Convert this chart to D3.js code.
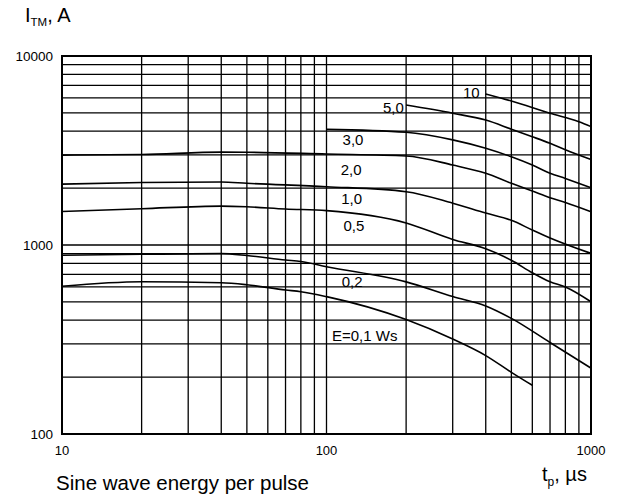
<!DOCTYPE html>
<html>
<head>
<meta charset="utf-8">
<script src="https://cdn.jsdelivr.net/npm/d3@7"></script>
<style>
  body { margin: 0; background: #fff; }
  text { font-family: "Liberation Sans", Arial, sans-serif; fill: #000; }
</style>
</head>
<body>
<div class="chart"></div>
<script>
// pulse duration tp (us) vs peak on-state current ITM (A), one curve per energy
const xMajor = [10, 100, 1000]
const yMajor = [100, 1000, 10000]
const xMinor = [20, 30, 40, 50, 60, 70, 80, 90, 200, 300, 400, 500, 600, 700, 800, 900]
const yMinor = [200, 300, 400, 500, 600, 700, 800, 900, 2000, 3000, 4000, 5000, 6000, 7000, 8000, 9000]

const e10 = [[400, 6300], [500, 5780], [700, 4980], [900, 4490], [1000, 4230]]
const e5 = [[200, 5500], [300, 4980], [400, 4580], [500, 4100], [600, 3740], [700, 3450], [800, 3190], [1000, 2830]]
const e3 = [[100, 4090], [200, 3950], [300, 3600], [400, 3250], [500, 2930], [600, 2650], [700, 2400], [800, 2250], [1000, 2010]]
const e2 = [[10, 2990], [20, 3010], [40, 3100], [50, 3095], [100, 3030], [200, 2960], [300, 2650], [400, 2395], [500, 2120], [600, 1930], [700, 1780], [800, 1680], [1000, 1500]]
const e1 = [[10, 2100], [20, 2140], [40, 2155], [50, 2120], [100, 2035], [200, 1915], [300, 1665], [400, 1475], [500, 1350], [600, 1200], [700, 1090], [1000, 903]]
const e05 = [[10, 1505], [20, 1556], [40, 1606], [50, 1593], [70, 1550], [100, 1520], [200, 1308], [300, 1070], [400, 955], [500, 830], [600, 713], [700, 639], [800, 600], [1000, 501]]
const e02 = [[10, 883], [20, 893], [40, 900], [50, 880], [70, 833], [80, 818], [100, 768], [200, 638], [300, 534], [400, 476], [500, 409], [700, 305], [1000, 223]]
const e01 = [[10, 605], [20, 639], [40, 631], [50, 616], [70, 578], [80, 566], [100, 533], [200, 403], [300, 318], [400, 260], [500, 212], [600, 181]]

const curves = [e10, e5, e3, e2, e1, e05, e02, e01]
const labelText = ["10", "5,0", "3,0", "2,0", "1,0", "0,5", "0,2", "E=0,1 Ws"]
const labelT = [353, 179, 126, 124, 124.5, 127, 125, 139.5]
const labelI = [6400, 5350, 3595, 2515, 1766, 1260, 640, 330]

const width = 622
const height = 495
const plotLeft = 62, plotRight = 591, plotTop = 56, plotBottom = 434

const svg = d3.select(".chart").append("svg")
  .attr("width", width)
  .attr("height", height)

const x = d3.scaleLog().domain([10, 1000]).range([plotLeft, plotRight])
const y = d3.scaleLog().domain([100, 10000]).range([plotBottom, plotTop])

// grid
const grid = svg.append("g").attr("stroke", "#000").attr("stroke-width", 1.3)
grid.selectAll(".vx")
  .data(xMinor.concat([100]))
  .enter().append("line")
  .attr("x1", d => x(d)).attr("x2", d => x(d))
  .attr("y1", plotTop).attr("y2", plotBottom)
grid.selectAll(".hy")
  .data(yMinor.concat([1000]))
  .enter().append("line")
  .attr("y1", d => y(d)).attr("y2", d => y(d))
  .attr("x1", plotLeft).attr("x2", plotRight)

svg.append("rect")
  .attr("x", plotLeft).attr("y", plotTop)
  .attr("width", plotRight - plotLeft).attr("height", plotBottom - plotTop)
  .attr("fill", "none")
  .attr("stroke", "#000")
  .attr("stroke-width", 2)

// tick labels
svg.append("g").selectAll("text")
  .data(xMajor)
  .enter().append("text")
  .attr("x", d => x(d))
  .attr("y", 455)
  .attr("text-anchor", "middle")
  .attr("font-size", 13)
  .text(d => d)

svg.append("g").selectAll("text")
  .data(yMajor)
  .enter().append("text")
  .attr("x", 53)
  .attr("y", d => y(d))
  .attr("dy", "0.35em")
  .attr("text-anchor", "end")
  .attr("font-size", 13.5)
  .text(d => d)

// curves
const line = d3.line()
  .x(d => x(d[0]))
  .y(d => y(d[1]))
  .curve(d3.curveMonotoneX)

svg.append("g")
  .attr("fill", "none")
  .attr("stroke", "#000")
  .attr("stroke-width", 1.6)
  .selectAll("path")
  .data(curves)
  .enter().append("path")
  .attr("d", line)

// curve labels
svg.append("g").selectAll("text")
  .data(labelText)
  .enter().append("text")
  .attr("x", (d, i) => x(labelT[i]))
  .attr("y", (d, i) => y(labelI[i]))
  .attr("dy", "0.35em")
  .attr("text-anchor", "middle")
  .attr("font-size", 15)
  .text(d => d)

// axis titles
const yTitle = svg.append("text").attr("x", 25).attr("y", 22).attr("font-size", 20)
yTitle.append("tspan").text("I")
yTitle.append("tspan").attr("font-size", 11.5).attr("dy", 4).text("TM")
yTitle.append("tspan").attr("dy", -4).text(", A")

const xTitle = svg.append("text").attr("x", 542).attr("y", 481).attr("font-size", 20)
xTitle.append("tspan").text("t")
xTitle.append("tspan").attr("font-size", 12).attr("dy", 5).text("p")
xTitle.append("tspan").attr("dy", -5).text(", \u00b5s")

svg.append("text")
  .attr("x", 56)
  .attr("y", 490)
  .attr("font-size", 20.5)
  .text("Sine wave energy per pulse")
</script>
</body>
</html>
